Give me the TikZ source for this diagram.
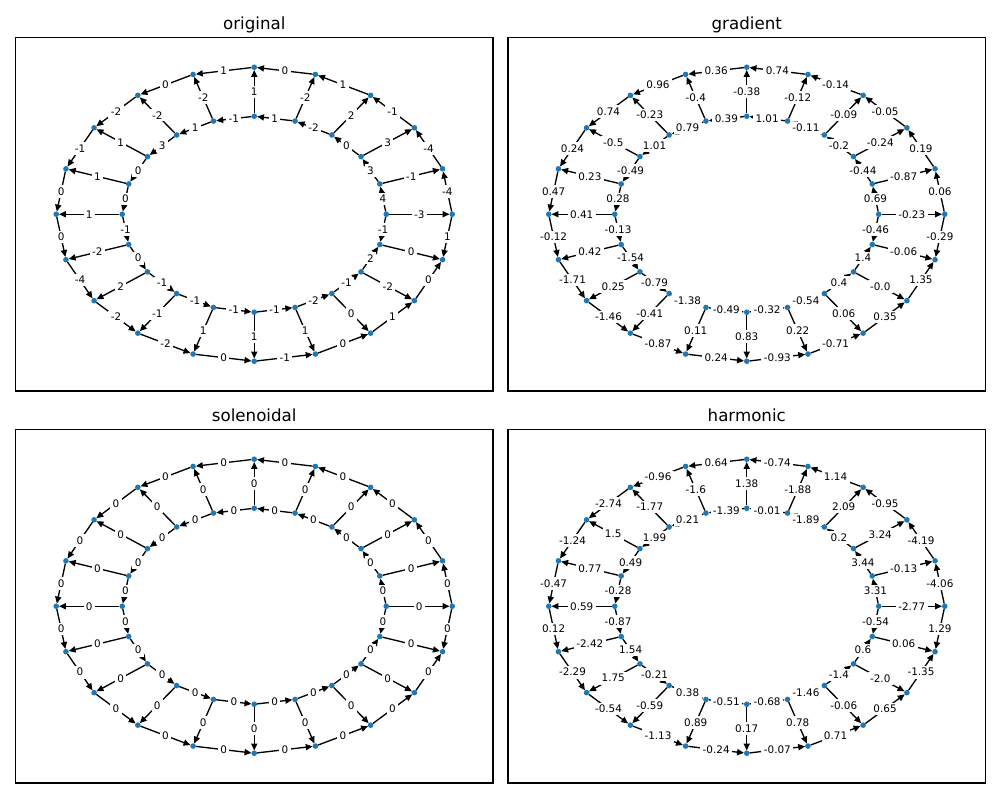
\documentclass[tikz,border=0pt]{standalone}
\usepackage{fontspec}
\setmainfont{DejaVu Sans}
\usetikzlibrary{arrows.meta}
\definecolor{nodeblue}{HTML}{1F77B4}
\pgfdeclarelayer{bg}
\pgfsetlayers{bg,main}
\tikzset{
  dot/.style={circle, fill=nodeblue, inner sep=0pt, minimum size=4.2pt, outer sep=0pt},
  edge/.style={line width=1pt, draw=black, -{Triangle[length=5.2pt,width=4.6pt]}},
  lbl/.style={fill=white, inner sep=1.8pt, font=\fontsize{7.8}{9.4}\selectfont, text=black},
  ptitle/.style={font=\fontsize{12.5}{15}\selectfont, anchor=base},
  frame/.style={line width=0.83pt, draw=black}
}
\newcommand\drawpanel[7]{%
  \draw[frame] ({#2-238.75},{#3-176.75}) rectangle ({#2+238.75},{#3+176.75});
  \node[ptitle] (#1title) at (#2,{#3-185}) {#4};
  \foreach \k in {0,...,19}{
    \node[dot] (#1o\k) at ({#2+198*cos(18*\k)},{#3-147*sin(18*\k)}) {};
    \node[dot] (#1i\k) at ({#2+132*cos(18*\k)},{#3-98*sin(18*\k)}) {};
  }
  \foreach \lab [count=\j from 0] in {#5}{
    \pgfmathtruncatemacro\s{\j==19 ? 0 : \j}
    \pgfmathtruncatemacro\t{\j==19 ? 19 : \j+1}
    \begin{pgfonlayer}{bg}\draw[edge] (#1o\s) -- (#1o\t);\end{pgfonlayer}
    \path (#1o\s) -- node[lbl]{\lab} (#1o\t);
  }
  \foreach \lab [count=\j from 0] in {#6}{
    \pgfmathtruncatemacro\s{\j==19 ? 0 : \j}
    \pgfmathtruncatemacro\t{\j==19 ? 19 : \j+1}
    \begin{pgfonlayer}{bg}\draw[edge] (#1i\s) -- (#1i\t);\end{pgfonlayer}
    \path (#1i\s) -- node[lbl]{\lab} (#1i\t);
  }
  \foreach \lab [count=\j from 0] in {#7}{
    \begin{pgfonlayer}{bg}\draw[edge] (#1i\j) -- (#1o\j);\end{pgfonlayer}
    \path (#1i\j) -- node[lbl]{\lab} (#1o\j);
  }
}
\begin{document}
\begin{tikzpicture}[x=0.75pt, y=-0.75pt]
\useasboundingbox (0,0) rectangle (1000,799);
\begin{pgfonlayer}{bg}\fill[white] (0,0) rectangle (1000,799);\end{pgfonlayer}
\drawpanel{pa}{254.25}{214.25}{original}
  {-4,-4,-1,1,0,1,0,-2,-1,0,0,-4,-2,-2,0,-1,0,1,0,1}
  {4,3,0,-2,1,-1,1,3,0,0,-1,0,-1,-1,-1,-1,-2,-1,2,-1}
  {-3,-1,3,2,-2,1,-2,-2,1,1,1,-2,2,-1,1,1,1,0,-2,0}
\drawpanel{pb}{746.75}{214.25}{gradient}
  {0.06,0.19,-0.05,-0.14,0.74,0.36,0.96,0.74,0.24,0.47,-0.12,-1.71,-1.46,-0.87,0.24,-0.93,-0.71,0.35,1.35,-0.29}
  {0.69,-0.44,-0.2,-0.11,1.01,0.39,0.79,1.01,-0.49,0.28,-0.13,-1.54,-0.79,-1.38,-0.49,-0.32,-0.54,0.4,1.4,-0.46}
  {-0.23,-0.87,-0.24,-0.09,-0.12,-0.38,-0.4,-0.23,-0.5,0.23,0.41,0.42,0.25,-0.41,0.11,0.83,0.22,0.06,-0.0,-0.06}
\drawpanel{pc}{254.25}{606.25}{solenoidal}
  {0,0,0,0,0,0,0,0,0,0,0,0,0,0,0,0,0,0,0,0}
  {0,0,0,0,0,0,0,0,0,0,0,0,0,0,0,0,0,0,0,0}
  {0,0,0,0,0,0,0,0,0,0,0,0,0,0,0,0,0,0,0,0}
\drawpanel{pd}{746.75}{606.25}{harmonic}
  {-4.06,-4.19,-0.95,1.14,-0.74,0.64,-0.96,-2.74,-1.24,-0.47,0.12,-2.29,-0.54,-1.13,-0.24,-0.07,0.71,0.65,-1.35,1.29}
  {3.31,3.44,0.2,-1.89,-0.01,-1.39,0.21,1.99,0.49,-0.28,-0.87,1.54,-0.21,0.38,-0.51,-0.68,-1.46,-1.4,0.6,-0.54}
  {-2.77,-0.13,3.24,2.09,-1.88,1.38,-1.6,-1.77,1.5,0.77,0.59,-2.42,1.75,-0.59,0.89,0.17,0.78,-0.06,-2.0,0.06}
\end{tikzpicture}
\end{document}
